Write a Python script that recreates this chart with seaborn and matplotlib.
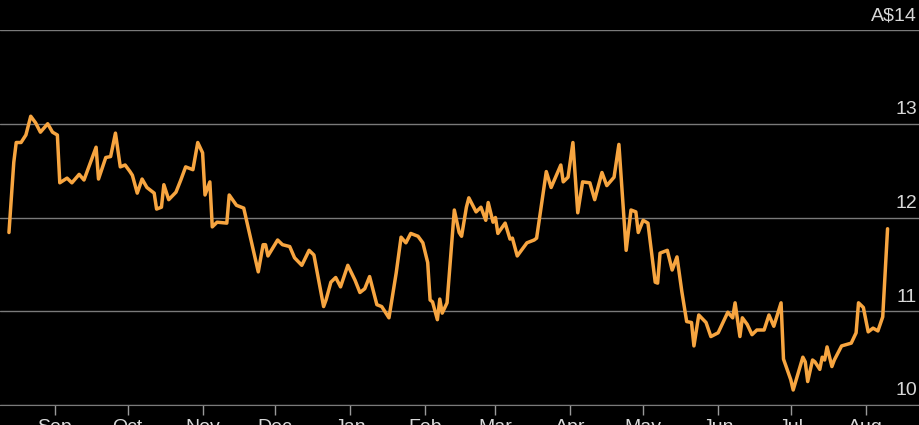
import pandas as pd
import matplotlib.pyplot as plt
import seaborn as sns

# days since 2019-09-01 and share price (A$)
days = [-19, -17, -16, -14, -12, -10, -8, -6, -3, -1, 1, 2, 5, 7, 10, 12, 17, 18, 21, 23,
        25, 27, 29, 31, 32, 34, 36, 38, 41, 42, 44, 45, 47, 50, 52, 54, 57, 59, 61, 62,
        64, 65, 67, 71, 72, 75, 78, 84, 86, 87, 88, 92, 94, 97, 99, 102, 105, 107, 111, 112,
        114, 116, 118, 121, 124, 126, 128, 130, 133, 135, 138, 141, 143, 145, 147, 150, 152, 154, 155, 156,
        158, 159, 160, 162, 165, 167, 168, 170, 171, 174, 176, 178, 179, 181, 182, 183, 186, 188, 189, 191,
        195, 198, 199, 203, 205, 209, 210, 212, 214, 216, 218, 221, 223, 226, 228, 231, 233, 236, 238, 240,
        241, 243, 245, 248, 249, 250, 253, 255, 257, 259, 261, 263, 264, 266, 269, 271, 274, 276, 278, 280,
        281, 283, 284, 286, 288, 290, 293, 295, 297, 300, 301, 304, 305, 309, 310, 311, 313, 314, 316, 317,
        318, 319, 321, 322, 325, 329, 331, 332, 334, 336, 338, 340, 342, 344]
price = [11.84, 12.59, 12.80, 12.80, 12.88, 13.08, 13.01, 12.91, 13.00, 12.91, 12.88, 12.37, 12.42, 12.37, 12.46, 12.40, 12.75, 12.41, 12.64, 12.65,
         12.90, 12.54, 12.56, 12.49, 12.45, 12.26, 12.41, 12.32, 12.26, 12.09, 12.11, 12.35, 12.19, 12.27, 12.40, 12.54, 12.51, 12.80, 12.69, 12.24,
         12.38, 11.90, 11.95, 11.94, 12.24, 12.13, 12.10, 11.42, 11.71, 11.71, 11.59, 11.76, 11.71, 11.69, 11.57, 11.49, 11.65, 11.60, 11.05, 11.12,
         11.31, 11.36, 11.26, 11.49, 11.33, 11.20, 11.24, 11.37, 11.07, 11.05, 10.93, 11.41, 11.79, 11.73, 11.83, 11.80, 11.73, 11.52, 11.12, 11.10,
         10.91, 11.13, 10.98, 11.09, 12.08, 11.84, 11.80, 12.11, 12.21, 12.06, 12.11, 11.97, 12.16, 11.95, 12.00, 11.83, 11.94, 11.77, 11.78, 11.59,
         11.73, 11.76, 11.78, 12.49, 12.32, 12.56, 12.38, 12.43, 12.80, 12.05, 12.38, 12.37, 12.19, 12.48, 12.34, 12.43, 12.78, 11.65, 12.08, 12.06,
         11.84, 11.97, 11.94, 11.31, 11.30, 11.62, 11.65, 11.44, 11.58, 11.21, 10.89, 10.88, 10.63, 10.96, 10.88, 10.73, 10.77, 10.88, 10.99, 10.93,
         11.09, 10.73, 10.93, 10.86, 10.75, 10.80, 10.80, 10.96, 10.84, 11.09, 10.49, 10.27, 10.16, 10.51, 10.46, 10.25, 10.48, 10.46, 10.38, 10.51,
         10.48, 10.62, 10.41, 10.48, 10.63, 10.66, 10.77, 11.09, 11.04, 10.78, 10.82, 10.79, 10.94, 11.88]

y_ticks = [10, 11, 12, 13, 14]
y_labels = ["10", "11", "12", "13", "A$14"]
months = ["Sep", "Oct", "Nov", "Dec", "Jan", "Feb", "Mar", "Apr", "May", "Jun", "Jul", "Aug"]

base = pd.Timestamp("2019-09-01")
df = pd.DataFrame({"date": base + pd.to_timedelta(days, unit="D"), "price": price})

sns.set_style("dark")
plt.rcParams["font.family"] = ["Liberation Sans Narrow", "Liberation Sans", "DejaVu Sans"]

fig = plt.figure(figsize=(9.2, 4.25), dpi=100, facecolor="black")
ax = fig.add_axes([0, 20 / 425, 1, 375 / 425], facecolor="black")

for t in y_ticks:
    ax.axhline(t, color="#7a7a7a", lw=1, zorder=1)
sns.lineplot(data=df, x="date", y="price", color="#f7a540", lw=2.5, ax=ax, zorder=3)

ax.set_ylim(10, 14)
ax.set_xlim(base - pd.Timedelta(days=22.7), base + pd.Timedelta(days=357.4))
ax.set_yticks([])
for t, lab in zip(y_ticks, y_labels):
    ax.text(0.997, t + 0.06, lab, transform=ax.get_yaxis_transform(), ha="right",
            va="bottom", color="#d8d8d8", fontsize=14)

ticks = pd.date_range("2019-09-01", periods=12, freq="MS")
ax.set_xticks(ticks)
ax.set_xticklabels(months)
ax.tick_params(axis="x", bottom=True, colors="#9a9a9a", length=7, width=1, direction="out",
               labelcolor="#d8d8d8", labelsize=14, pad=3)
ax.set_xlabel("")
ax.set_ylabel("")
for s in ["top", "left", "right"]:
    ax.spines[s].set_visible(False)
ax.spines["bottom"].set_color("#7a7a7a")
ax.grid(False)

fig.savefig("out.png", dpi=100, facecolor="black")
